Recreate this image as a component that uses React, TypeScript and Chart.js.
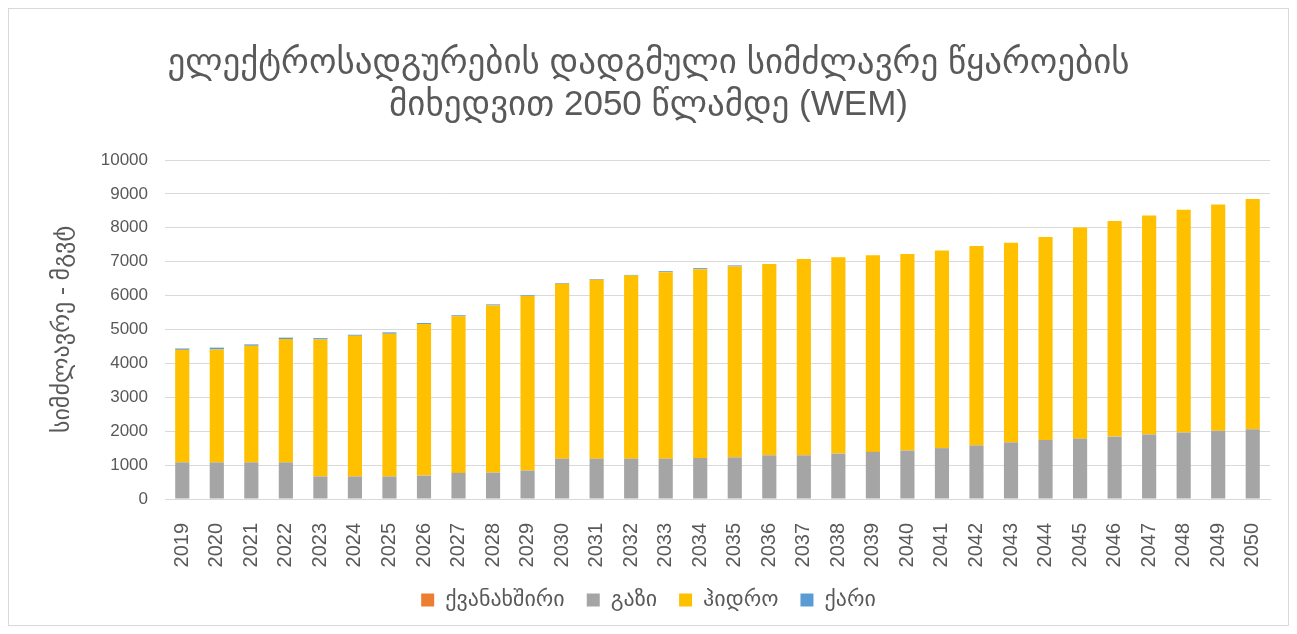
import React, { useEffect, useRef } from "react";
import { Chart, registerables } from "chart.js";

Chart.register(...registerables);

const years = [
  "2019", "2020", "2021", "2022", "2023", "2024", "2025", "2026", "2027", "2028", "2029",
  "2030", "2031", "2032", "2033", "2034", "2035", "2036", "2037", "2038", "2039", "2040",
  "2041", "2042", "2043", "2044", "2045", "2046", "2047", "2048", "2049", "2050",
];

const coal = [0, 0, 0, 0, 0, 0, 0, 0, 0, 0, 0, 0, 0, 0, 0, 0, 0, 0, 0, 0, 0, 0, 0, 0, 0, 0, 0, 0, 0, 0, 0, 0];
const gas = [
  1080, 1080, 1080, 1080, 665, 665, 665, 690, 770, 780, 840, 1190, 1190, 1190, 1190, 1210,
  1230, 1290, 1290, 1340, 1390, 1430, 1500, 1580, 1670, 1740, 1780, 1840, 1900, 1960, 2010, 2060,
];
const hydro = [
  3320, 3330, 3440, 3640, 4040, 4150, 4210, 4470, 4620, 4930, 5150, 5160, 5280, 5400, 5500, 5570,
  5630, 5640, 5790, 5790, 5800, 5800, 5830, 5880, 5890, 5990, 6230, 6360, 6460, 6570, 6680, 6790,
];
const wind = [
  40, 55, 40, 40, 40, 30, 40, 30, 30, 30, 20, 20, 20, 20, 30, 30,
  30, 0, 0, 0, 0, 0, 0, 0, 0, 0, 0, 0, 0, 0, 0, 0,
];

const seriesNames = ["ქვანახშირი", "გაზი", "ჰიდრო", "ქარი"];
const titleLines = ["ელექტროსადგურების დადგმული სიმძლავრე წყაროების", "მიხედვით 2050 წლამდე (WEM)"];
const yAxisTitle = "სიმძლავრე - მგვტ";

const FONT = "'Liberation Sans', 'DejaVu Sans', sans-serif";
const TEXT = "#595959";

export default function App() {
  const ref = useRef<HTMLCanvasElement | null>(null);

  useEffect(() => {
    if (!ref.current) return;
    const chart = new Chart(ref.current, {
      type: "bar",
      data: {
        labels: years,
        datasets: [
          { label: seriesNames[0], data: coal, backgroundColor: "#ED7D31" },
          { label: seriesNames[1], data: gas, backgroundColor: "#A5A5A5" },
          { label: seriesNames[2], data: hydro, backgroundColor: "#FFC000" },
          { label: seriesNames[3], data: wind, backgroundColor: "#5B9BD5" },
        ],
      },
      options: {
        animation: false,
        responsive: false,
        maintainAspectRatio: false,
        layout: { padding: { left: 0, right: 0, top: 0, bottom: 4 } },
        datasets: { bar: { barPercentage: 0.41, categoryPercentage: 1 } },
        plugins: {
          title: {
            display: true,
            text: titleLines,
            color: TEXT,
            font: { family: FONT, size: 35, weight: "normal", lineHeight: 1.2 },
            padding: { top: 33, bottom: 34 },
          },
          legend: {
            display: true,
            position: "bottom",
            labels: {
              color: TEXT,
              font: { family: FONT, size: 22 },
              boxWidth: 13,
              boxHeight: 13,
              padding: 22,
            },
          },
          tooltip: { enabled: false },
        },
        scales: {
          x: {
            stacked: true,
            grid: { display: false },
            border: { display: true, color: "#d9d9d9", width: 1 },
            ticks: {
              color: TEXT,
              font: { family: FONT, size: 20 },
              minRotation: 90,
              maxRotation: 90,
              padding: 16,
              autoSkip: false,
            },
            afterFit: (s: any) => {
              s.height = 68;
              s.paddingRight = 0;
              s.paddingLeft = 0;
            },
          },
          y: {
            stacked: true,
            min: 0,
            max: 10000,
            grid: { color: "#d9d9d9", lineWidth: 1, drawTicks: false },
            border: { display: false },
            ticks: {
              stepSize: 1000,
              color: TEXT,
              font: { family: FONT, size: 17 },
              padding: 17,
              callback: (v: any) => String(v),
            },
            title: {
              display: true,
              text: yAxisTitle,
              color: TEXT,
              font: { family: FONT, size: 24 },
              padding: { top: 39, bottom: 0 },
            },
            afterFit: (s: any) => {
              s.width = 156;
            },
          },
          yRight: {
            position: "right",
            display: true,
            grid: { display: false, drawTicks: false },
            border: { display: false },
            ticks: { display: false },
            afterFit: (s: any) => {
              s.width = 18;
            },
          },
        },
      },
    });
    return () => chart.destroy();
  }, []);

  return (
    <div
      style={{
        width: 1279,
        height: 616,
        border: "1px solid #d9d9d9",
        background: "#fff",
      }}
    >
      <canvas ref={ref} width={1279} height={616} style={{ display: "block" }} />
    </div>
  );
}
